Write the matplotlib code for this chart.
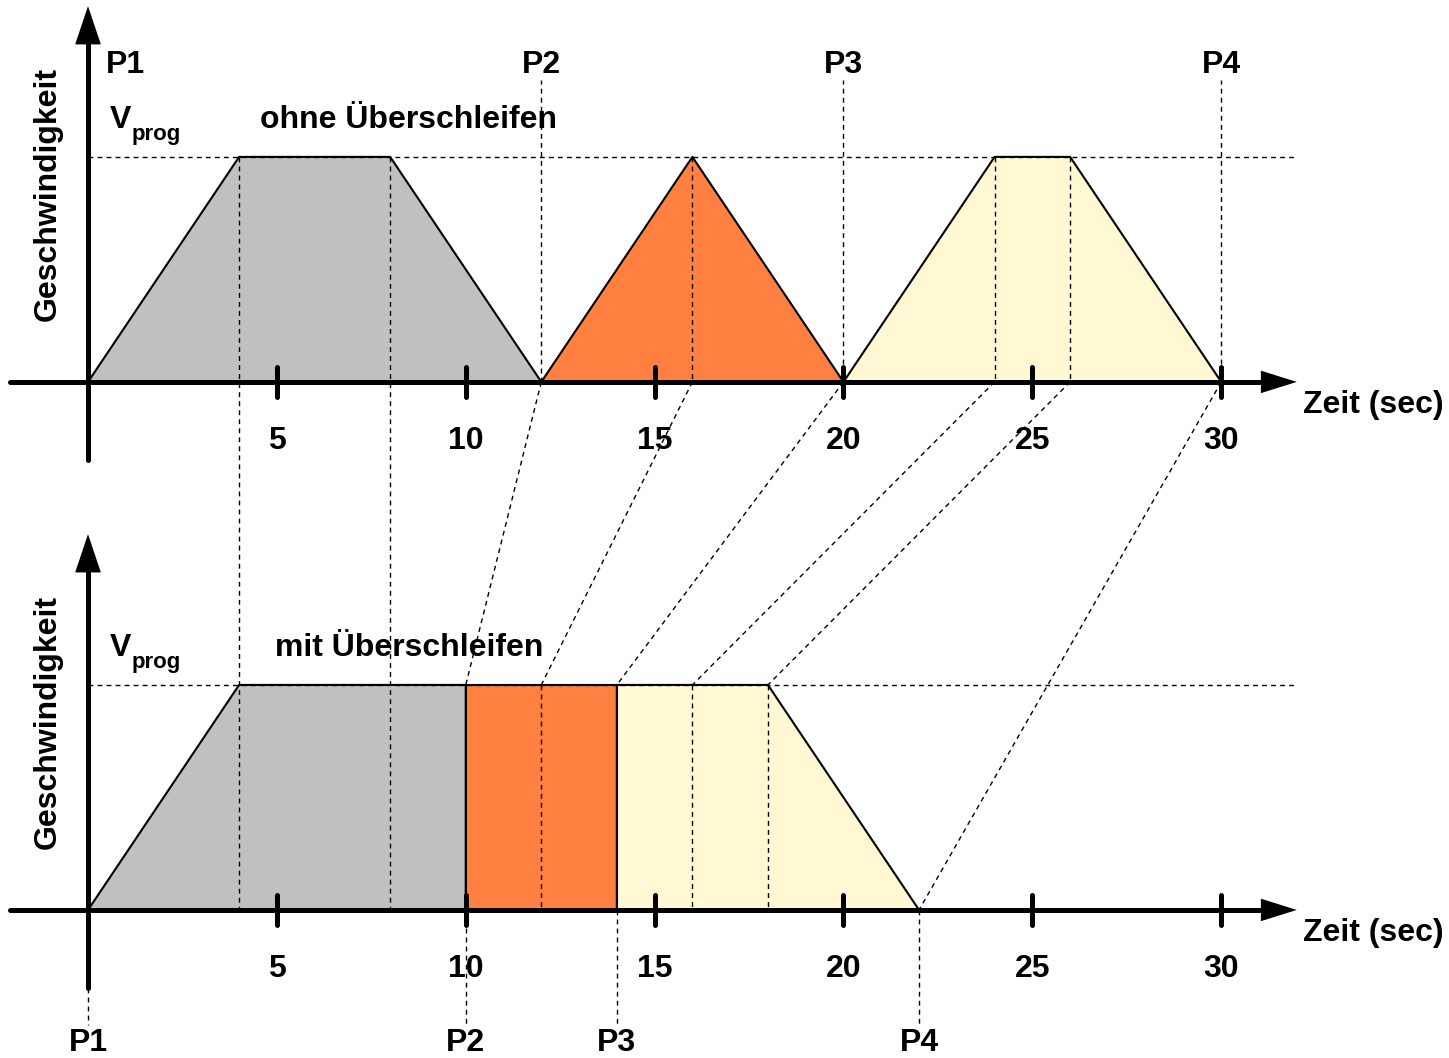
import numpy as np
import matplotlib.pyplot as plt

plt.rcParams['font.family'] = ['Liberation Sans Narrow', 'Liberation Sans', 'DejaVu Sans']
plt.rcParams['font.weight'] = 'bold'

# Zeitachse (sec)
tick_values = [5, 10, 15, 20, 25, 30]
p_labels = ['P1', 'P2', 'P3', 'P4']
satz_farben = ['#C0C0C0', '#FF8040', '#FFF8D2']

# ohne Ueberschleifen: Zeit / Geschwindigkeit je Satz (V = 1 -> Vprog)
ohne_t = [[0, 4, 8, 12], [12, 16, 20], [20, 24, 26, 30]]
ohne_v = [[0, 1, 1, 0], [0, 1, 0], [0, 1, 1, 0]]
ohne_p = [0, 12, 20, 30]

# mit Ueberschleifen
mit_t = [[0, 4, 10, 10], [10, 10, 14, 14], [14, 14, 18, 22]]
mit_v = [[0, 1, 1, 0], [0, 1, 1, 0], [0, 1, 1, 0]]
mit_p = [0, 10, 14, 22]

# Hilfslinien
dash_ohne = [16, 24, 26]        # nur im oberen Bild
dash_beide = [4, 8]             # von oben bis unten durch
dash_mit = [12, 16, 18]         # nur im unteren Bild
map_ohne = [12, 16, 20, 24, 26, 30]
map_mit = [10, 12, 14, 16, 18, 22]
map_mit_v = [1, 1, 1, 1, 1, 0]

off = 2.3467  # Versatz oberes Bild
fs = 23
dy = -0.012   # Text etwas tiefer

fig = plt.figure(figsize=(14.49, 10.58), dpi=100)
ax = fig.add_axes([0, 0, 1, 1])
ax.set_xlim(-2.33, 36.03)
ax.set_ylim(-0.658, 4.044)
ax.axis('off')

dash = dict(color='k', lw=1.0, linestyle=(0, (3.5, 3)), zorder=3)

# Flaechen
for t, v, c in zip(ohne_t, ohne_v, satz_farben):
    ax.fill(t, np.array(v) + off, color=c, lw=0, zorder=1)
for t, v, c in zip(mit_t, mit_v, satz_farben):
    ax.fill(t, v, color=c, lw=0, zorder=1)

# Vprog Linien
for y0 in [0, off]:
    ax.plot([0, 32.0], [y0 + 1, y0 + 1], **dash)

for t in dash_ohne:
    ax.plot([t, t], [off + 1, off], **dash)
for t in dash_beide:
    ax.plot([t, t], [off + 1, 0], **dash)
for t in dash_mit:
    ax.plot([t, t], [1, 0], **dash)
for t1, t2, v2 in zip(map_ohne, map_mit, map_mit_v):
    ax.plot([t1, t2], [off, v2], **dash)

# P-Linien
for t in ohne_p[1:]:
    ax.plot([t, t], [off, off + 1.342], **dash)
for t in mit_p[1:]:
    ax.plot([t, t], [0, -0.511], **dash)
ax.plot([0, 0], [-0.347, -0.511], **dash)

# Umrisse
for t, v in zip(ohne_t, ohne_v):
    ax.plot(t, np.array(v) + off, color='k', lw=1.5, zorder=4)
for t, v in zip(mit_t, mit_v):
    ax.plot(t, v, color='k', lw=1.5, zorder=4)

# Achsen
for y0 in [off, 0]:
    ax.plot([-2.07, 31.2], [y0, y0], color='k', lw=3.6, solid_capstyle='round', zorder=5)
    ax.arrow(31.0, y0, 1.0, 0, width=0.0, head_width=0.1, head_length=0.95,
             length_includes_head=True, fc='k', ec='k', lw=0, zorder=5)
    ax.plot([0, 0], [y0 - 0.347, y0 + 1.5], color='k', lw=3.6, solid_capstyle='round', zorder=5)
    ax.arrow(0, y0 + 1.45, 0, 0.22, width=0.0, head_width=0.68, head_length=0.17,
             length_includes_head=True, fc='k', ec='k', lw=0, zorder=5)
    for t in tick_values:
        ax.plot([t, t], [y0 - 0.068, y0 + 0.068], color='k', lw=3.6,
                solid_capstyle='round', zorder=5)
        ax.text(t, y0 - 0.249 + dy, str(t), fontsize=fs, fontweight='bold',
                ha='center', va='center', zorder=6)
    ax.text(32.17, y0 - 0.089 + dy, 'Zeit (sec)', fontsize=fs, fontweight='bold',
            ha='left', va='center')
    ax.text(-1.06, y0 + 0.836, 'Geschwindigkeit', fontsize=fs, fontweight='bold',
            rotation=90, ha='center', va='center')
    ax.text(0.58, y0 + 1.175 + dy, 'V', fontsize=fs, fontweight='bold', ha='left', va='center')
    ax.text(1.16, y0 + 1.11 + dy, 'prog', fontsize=16, fontweight='bold', ha='left', va='center')

ax.text(4.55, off + 1.175 + dy, 'ohne Überschleifen', fontsize=fs, fontweight='bold',
        ha='left', va='center')
ax.text(4.95, 1.178 + dy, 'mit Überschleifen', fontsize=fs, fontweight='bold',
        ha='left', va='center')

# P-Beschriftungen
ax.text(0.477, off + 1.42 + dy, p_labels[0], fontsize=fs, fontweight='bold', ha='left', va='center')
for t, lab in zip(ohne_p[1:], p_labels[1:]):
    ax.text(t, off + 1.42 + dy, lab, fontsize=fs, fontweight='bold', ha='center', va='center')
for t, lab in zip(mit_p, p_labels):
    ax.text(t, -0.578 + dy, lab, fontsize=fs, fontweight='bold', ha='center', va='center')

fig.savefig('out.png', dpi=100)
